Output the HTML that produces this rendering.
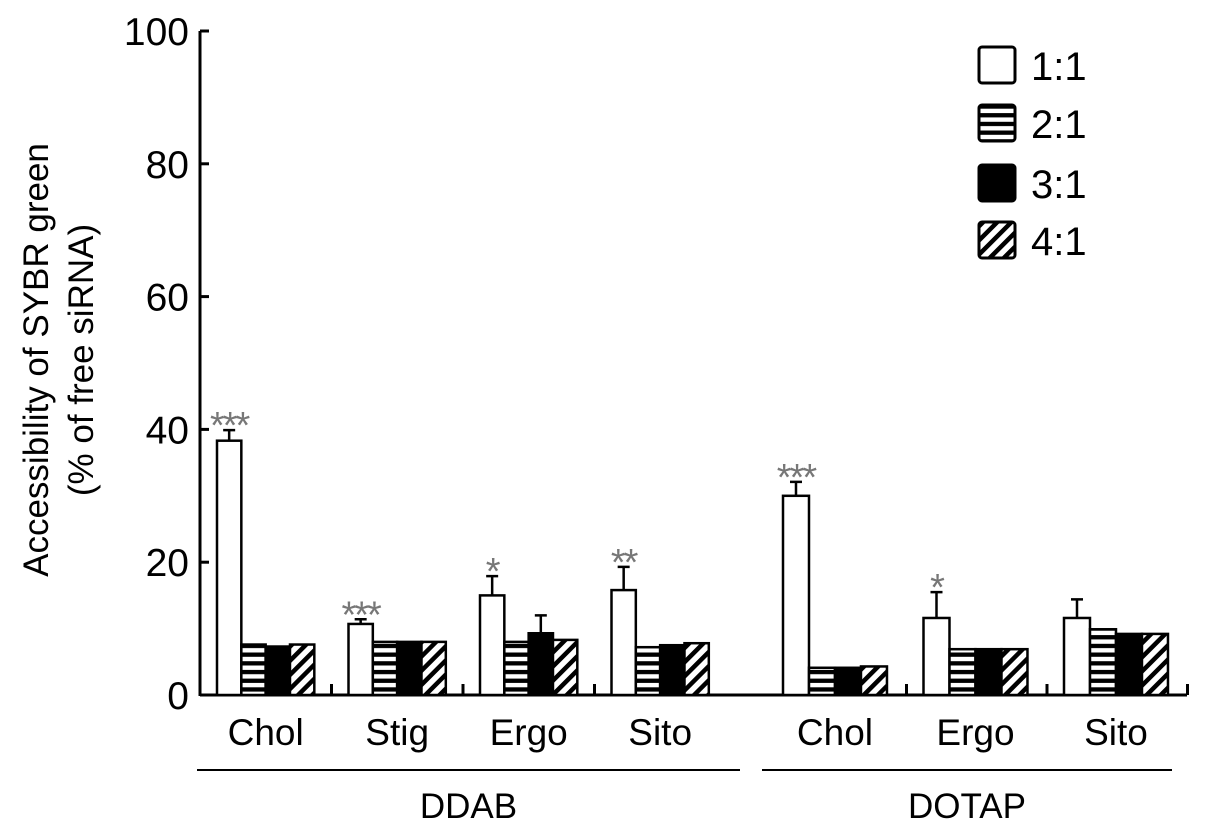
<!DOCTYPE html>
<html><head><meta charset="utf-8"><style>
body{margin:0;background:#fff}
svg{display:block;font-family:"Liberation Sans",Arial,sans-serif}
</style></head><body>
<svg id="chart" width="1205" height="837" viewBox="0 0 1205 837" xmlns="http://www.w3.org/2000/svg">
<defs>
<pattern id="stripes" patternUnits="userSpaceOnUse" width="10" height="8.7"><rect width="10" height="8.7" fill="#fff"/><rect y="0" width="10" height="4.3" fill="#000"/></pattern>
<pattern id="hatch" patternUnits="userSpaceOnUse" width="10" height="10" patternTransform="rotate(45)"><rect width="10" height="10" fill="#fff"/><rect x="0" width="4.5" height="10" fill="#000"/></pattern>
</defs>
<g id="plot"></g>
</svg>
<script>
const categories=["Chol","Stig","Ergo","Sito","Chol","Ergo","Sito"];
const lipids=["DDAB","DDAB","DDAB","DDAB","DOTAP","DOTAP","DOTAP"];
const series11=[38.3,10.7,15.0,15.8,30.0,11.6,11.6];
const err11=[39.9,11.4,17.9,19.3,32.1,15.5,14.4];
const series21=[7.6,8.0,8.0,7.2,4.1,6.9,9.9];
const series31=[7.3,8.0,9.3,7.5,4.1,6.9,9.2];
const err31=[null,null,12.0,null,null,null,null];
const series41=[7.6,8.0,8.3,7.8,4.3,6.9,9.2];
const stars=["***","***","*","**","***","*",""];
const yTicks=[0,20,40,60,80,100];
const legendLabels=["1:1","2:1","3:1","4:1"];
const fills=["#fff","url(#stripes)","#000","url(#hatch)"];

const NS="http://www.w3.org/2000/svg";
const g=document.getElementById('plot');
function el(t,a,p){const e=document.createElementNS(NS,t);for(const k in a)e.setAttribute(k,a[k]);(p||g).appendChild(e);return e;}
const y0=695,yTop=31;
function y(v){return y0-(v/100)*(y0-yTop);}
function band(i){return lipids[i]==="DDAB"?{x:200+i*131.5,w:131.5}:{x:766+(i-4)*140.5,w:140.5};}

let a=el('line',{x1:200,y1:y0,x2:1187,y2:y0,stroke:'#000','stroke-width':3});

a=el('line',{x1:200,y1:yTop,x2:200,y2:y0+1,stroke:'#000','stroke-width':3});

yTicks.forEach(v=>{
  const t=el('line',{x1:200,y1:y(v),x2:209,y2:y(v),stroke:'#000','stroke-width':3});
  
  const l=el('text',{x:189,y:y(v)+14,'text-anchor':'end','font-size':39});
  l.textContent=v;
  
});
const yt=el('text',{transform:'translate(48,360) rotate(-90)','text-anchor':'middle','font-size':35});
yt.textContent='Accessibility of SYBR green';

const yt2=el('text',{transform:'translate(93,360) rotate(-90)','text-anchor':'middle','font-size':35});
yt2.textContent='(% of free siRNA)';


const all=[series11,series21,series31,series41];
categories.forEach((c,i)=>{
  const b=band(i);const bw=b.w*0.185;const bx=b.x+17;
  if(i!==3){
  const tk=el('line',{x1:b.x+b.w,y1:y0,x2:b.x+b.w,y2:y0-11,stroke:'#000','stroke-width':3});
  }
  all.forEach((s,k)=>{
    const r=el('rect',{x:bx+k*bw,y:y(s[i]),width:bw,height:y0-y(s[i]),fill:fills[k],stroke:'#000','stroke-width':2.5});
    
    
  });
  const cx=bx+bw/2;
  const e=el('path',{d:`M${cx},${y(series11[i])} V${y(err11[i])} M${cx-6},${y(err11[i])} H${cx+6}`,stroke:'#000','stroke-width':2.5,fill:'none'});
  
  if(err31[i]!=null){const cx3=bx+2.5*bw;
    const e3=el('path',{d:`M${cx3},${y(series31[i])} V${y(err31[i])} M${cx3-6},${y(err31[i])} H${cx3+6}`,stroke:'#000','stroke-width':2.5,fill:'none'});
    }
  if(stars[i]){const st=el('text',{x:cx,y:y(err11[i])+8,'text-anchor':'middle','font-size':38,fill:'#777','letter-spacing':'-2'});
    st.textContent=stars[i];
    }
  const xl=el('text',{x:bx+2*bw,y:745,'text-anchor':'middle','font-size':37});
  xl.textContent=c;
  
});
[["DDAB",197,740],["DOTAP",762,1172]].forEach(([n,x1,x2])=>{
  const l=el('line',{x1:x1,y1:770,x2:x2,y2:770,stroke:'#000','stroke-width':2});
  
  const t=el('text',{x:(x1+x2)/2,y:818,'text-anchor':'middle','font-size':35});
  t.textContent=n;
  
});
const ly=[47,105,165,222];
legendLabels.forEach((lb,k)=>{
  const r=el('rect',{x:979,y:ly[k],width:36,height:36,rx:3,fill:fills[k],stroke:'#000','stroke-width':3});
  
  const t=el('text',{x:1031,y:ly[k]+33,'font-size':40});
  t.textContent=lb;
  
});
</script>
</body></html>
